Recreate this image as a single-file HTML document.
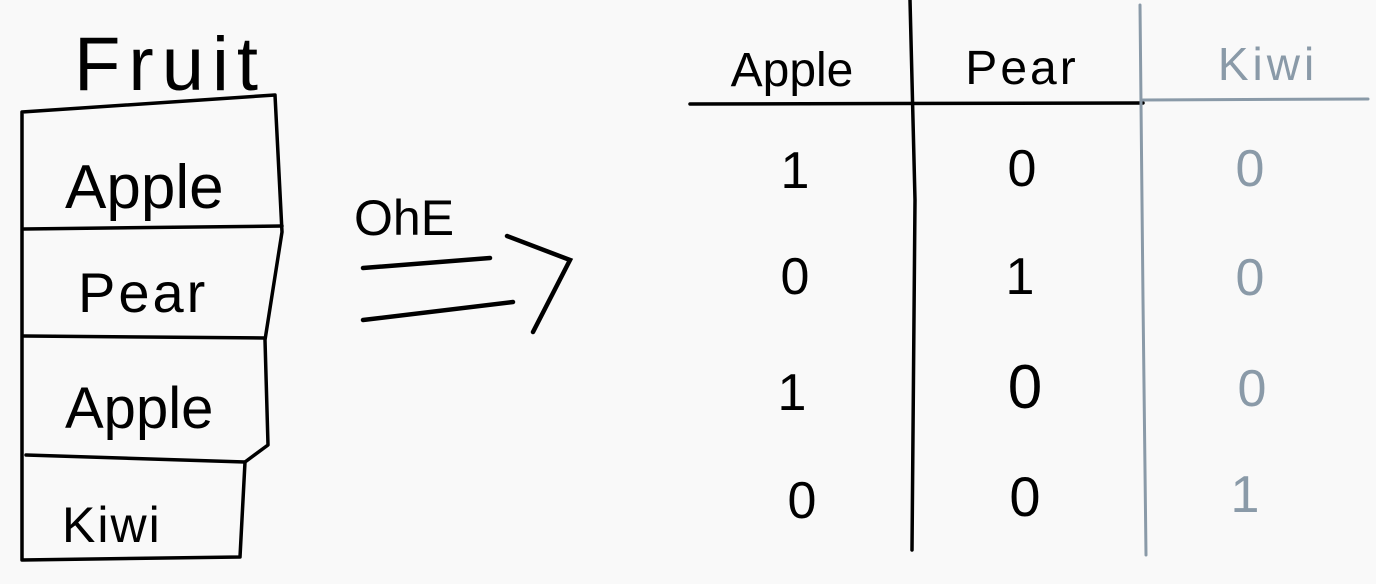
<!DOCTYPE html>
<html>
<head>
<meta charset="utf-8">
<style>
  html,body{margin:0;padding:0;background:#f9f9f9;}
  svg{display:block;}
  text{font-family:"Liberation Sans","DejaVu Sans",sans-serif;}
</style>
</head>
<body>
<svg width="1376" height="584" viewBox="0 0 1376 584" xmlns="http://www.w3.org/2000/svg">
  <rect width="1376" height="584" fill="#f9f9f9"/>

  <!-- Left table -->
  <g stroke="#000" stroke-width="3.5" fill="none" stroke-linecap="round" stroke-linejoin="round">
    <path d="M22 112 L22 560 L240 557 L245 462 L268 445 L265 340 L282 232 L275 95 Z"/>
    <path d="M24 229 L282 226"/>
    <path d="M24 336 L265 338"/>
    <path d="M26 455 L245 462"/>
  </g>
  <text x="74" y="90" font-size="76" letter-spacing="8" fill="#000">Fruit</text>
  <text x="65" y="208" font-size="62" fill="#000">Apple</text>
  <text x="78" y="312" font-size="56" letter-spacing="3" fill="#000">Pear</text>
  <text x="65" y="428" font-size="58" fill="#000">Apple</text>
  <text x="62" y="542" font-size="50" letter-spacing="2" fill="#000">Kiwi</text>

  <!-- Arrow -->
  <text x="354" y="235" font-size="50" fill="#000">OhE</text>
  <g stroke="#000" stroke-width="4.5" fill="none" stroke-linecap="round">
    <path d="M363 268 L490 258"/>
    <path d="M363 320 L513 302"/>
    <path d="M507 236 L570 260 L533 332"/>
  </g>

  <!-- Right table -->
  <g stroke-linecap="round" fill="none">
    <path d="M690 104 L1143 103" stroke="#000" stroke-width="3.5"/>
    <path d="M910 0 L915 200 L912 550" stroke="#000" stroke-width="3.5"/>
    <path d="M1143 100 L1368 99" stroke="#8a9aa8" stroke-width="3"/>
    <path d="M1140 5 L1143 300 L1146 555" stroke="#8a9aa8" stroke-width="3"/>
  </g>
  <text x="792" y="86" font-size="48" text-anchor="middle" fill="#000">Apple</text>
  <text x="1022" y="84" font-size="48" letter-spacing="3" text-anchor="middle" fill="#000">Pear</text>
  <text x="1268" y="80" font-size="46" letter-spacing="4" text-anchor="middle" fill="#8a9aa8">Kiwi</text>

  <g font-size="52" text-anchor="middle">
    <text x="795" y="188" fill="#000">1</text>
    <text x="1022" y="186" fill="#000">0</text>
    <text x="1250" y="186" fill="#8a9aa8">0</text>
    <text x="795" y="294" fill="#000">0</text>
    <text x="1020" y="294" fill="#000">1</text>
    <text x="1250" y="295" fill="#8a9aa8">0</text>
    <text x="792" y="410" fill="#000">1</text>
    <text x="1025" y="408" font-size="62" fill="#000">0</text>
    <text x="1252" y="406" fill="#8a9aa8">0</text>
    <text x="802" y="518" fill="#000">0</text>
    <text x="1025" y="516" font-size="56" fill="#000">0</text>
    <text x="1245" y="512" fill="#8a9aa8">1</text>
  </g>
</svg>
</body>
</html>
